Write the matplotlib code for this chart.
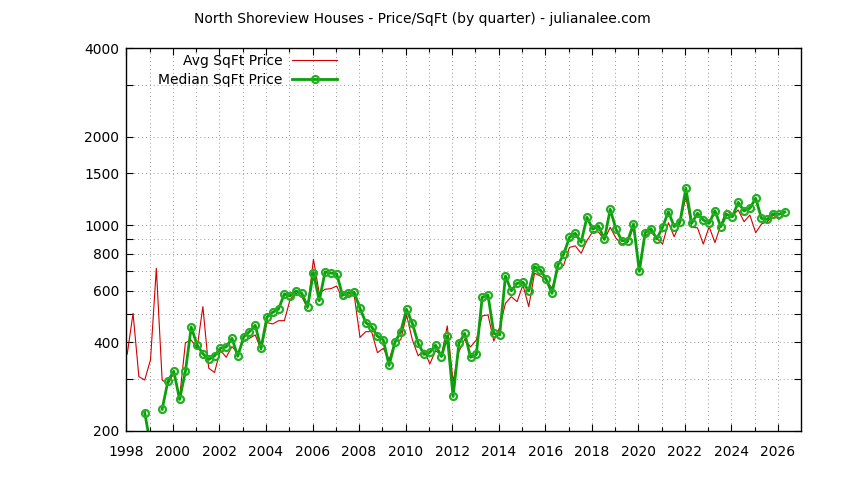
import numpy as np
import matplotlib
matplotlib.use("Agg")
import matplotlib.pyplot as plt
from matplotlib.ticker import FixedLocator, NullFormatter

# quarterly price per sqft, starting 1998 Q1
start_year = 1998.04
avg_price = [
    365, 502, 306, 298, 349, 714, 298, 288, 315, 260,
    399, 407, 382, 529, 327, 316, 377, 356, 387, 368,
    405, 413, 424, 377, 467, 462, 474, 474, 560, 587,
    572, 522, 766, 587, 606, 609, 622, 560, 579, 580,
    416, 435, 435, 369, 382, 349, 402, 408, 496, 408,
    360, 377, 338, 375, 362, 455, 294, 372, 410, 386,
    408, 492, 496, 404, 450, 543, 572, 550, 627, 529,
    687, 672, 652, 611, 708, 731, 841, 851, 803, 886,
    951, 948, 891, 984, 903, 863, 873, 984, 705, 919,
    951, 903, 863, 1020, 914, 1015, 1250, 984, 980, 863,
    989, 873, 1002, 1127, 1077, 1127, 1028, 1083, 943, 1010,
    1028, 1083, 1047, 1109,
]
median_price = [
    np.nan, np.nan, np.nan, 231, 179, np.nan, 237, 296, 319, 256,
    319, 451, 392, 366, 350, 360, 382, 386, 413, 359,
    417, 435, 457, 382, 487, 506, 519, 584, 575, 598,
    587, 529, 690, 554, 694, 688, 683, 578, 589, 592,
    522, 467, 452, 420, 408, 334, 400, 435, 518, 464,
    397, 364, 370, 391, 358, 420, 262, 397, 429, 356,
    364, 569, 579, 429, 424, 672, 599, 635, 640, 598,
    723, 705, 655, 587, 731, 797, 910, 939, 875, 1064,
    969, 994, 896, 1133, 969, 886, 886, 1010, 697, 943,
    973, 898, 984, 1112, 989, 1028, 1335, 1015, 1098, 1042,
    1015, 1120, 989, 1089, 1069, 1196, 1118, 1142, 1234, 1055,
    1047, 1094, 1089, 1109,
]

year_ticks = list(range(1998, 2027, 2))
year_minor = list(range(1999, 2027, 2))
price_ticks = [200, 400, 600, 800, 1000, 1500, 2000, 4000]
price_minor = [300, 500, 700, 900, 3000]

quarters = start_year + 0.25 * np.arange(len(avg_price))

plt.rcParams['font.family'] = ['DejaVu Sans']
plt.rcParams['font.size'] = 10

fig = plt.figure(figsize=(8.44, 4.8), dpi=100)
ax = fig.add_axes([126.3 / 844, 1 - 431 / 480, (801.3 - 126.3) / 844, (431 - 48) / 480])

ax.plot(quarters, avg_price, color='#d40000', lw=0.8, label='Avg SqFt Price')
ax.plot(quarters, median_price, color='#0aa00a', lw=2.0, marker='o', ms=5,
        mfc='none', mec='#22b022', mew=1.6, label='Median SqFt Price')

ax.set_yscale('log')
ax.set_xlim(1998, 2027)
ax.set_ylim(200, 4000)

ax.xaxis.set_major_locator(FixedLocator(year_ticks))
ax.xaxis.set_minor_locator(FixedLocator(year_minor))
ax.set_xticklabels([str(y) for y in year_ticks])
ax.yaxis.set_major_locator(FixedLocator(price_ticks))
ax.yaxis.set_minor_locator(FixedLocator(price_minor))
ax.set_yticklabels([str(p) for p in price_ticks])
ax.yaxis.set_minor_formatter(NullFormatter())

ax.tick_params(which='both', direction='in', top=True, right=True, width=0.8,
               labelsize=10, pad=5)
ax.tick_params(axis='x', which='major', length=5, pad=10)
ax.tick_params(axis='x', which='minor', length=3)
ax.tick_params(axis='y', which='both', length=5)

grid_style = dict(color='#999999', lw=0.7, linestyle=(0, (1, 3)))
ax.grid(True, which='both', **grid_style)
ax.set_axisbelow(True)
for s in ax.spines.values():
    s.set_linewidth(1.0)
    s.set_color('black')

leg = ax.legend(loc='upper right', bbox_to_anchor=(0.312, 0.985), markerfirst=False,
                frameon=False, borderpad=0, borderaxespad=0, handlelength=3.2,
                handletextpad=0.7, labelspacing=0.35, fontsize=10)

fig.text(0.5, 1 - 19 / 480, 'North Shoreview Houses - Price/SqFt (by quarter) - julianalee.com',
         ha='center', va='center', fontsize=10)

fig.savefig('out.png', dpi=100)
